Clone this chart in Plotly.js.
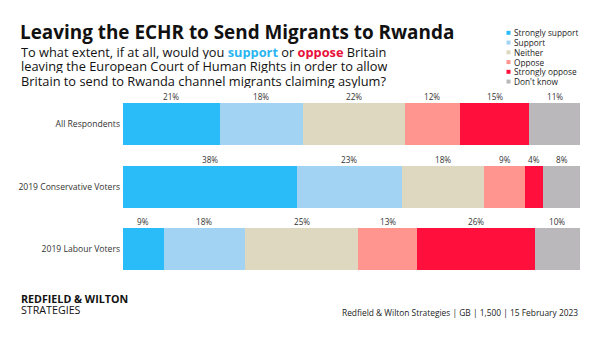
<!DOCTYPE html>
<html>
<head>
<meta charset="utf-8">
<script src="https://cdn.plot.ly/plotly-3.0.1.min.js"></script>
<style>html,body{margin:0;padding:0;background:#fff;}#chart{width:600px;height:338px;}</style>
</head>
<body>
<div id="chart"></div>
<script>
const groups = ["All Respondents", "2019 Conservative Voters", "2019 Labour Voters"];
const seriesNames = ["Strongly support", "Support", "Neither", "Oppose", "Strongly oppose", "Don't know"];
const seriesColors = ["#29BCF9", "#A3D3F3", "#DED8C0", "#FF958E", "#FF0F3B", "#BAB8BA"];
const stronglySupport = [21, 38, 9];
const support = [18, 23, 18];
const neither = [22, 18, 25];
const oppose = [12, 9, 13];
const stronglyOppose = [15, 4, 26];
const dontKnow = [11, 8, 10];
const seriesValues = [stronglySupport, support, neither, oppose, stronglyOppose, dontKnow];

const FONT = "Open Sans, DejaVu Sans, sans-serif";
const W = 600, H = 338;
const M = {l: 123, r: 20, t: 92.5, b: 53.5};
const pw = W - M.l - M.r, ph = H - M.t - M.b;
const px = x => (x - M.l) / pw;
const py = y => (H - M.b - y) / ph;

const traces = seriesNames.map((name, i) => ({
  type: "bar",
  orientation: "h",
  name: name,
  y: groups,
  x: seriesValues[i],
  marker: {color: seriesColors[i], line: {width: 0}},
  hoverinfo: "none",
  showlegend: false
}));

const annotations = [];
// value labels above each segment, positioned in normalised data units
groups.forEach((g, gi) => {
  const total = seriesValues.reduce((s, arr) => s + arr[gi], 0);
  let cum = 0;
  seriesValues.forEach((arr, si) => {
    const v = arr[gi];
    const mid = (cum + v / 2) / total * 100;
    cum += v;
    annotations.push({
      x: mid, y: g, xref: "x", yref: "y",
      text: v + "%", showarrow: false,
      xanchor: "center", yanchor: "bottom", yshift: 20,
      font: {family: FONT, size: 8.2, color: "#333"}
    });
  });
});

// subtitle (three lines, tight spacing)
const subLines = [
  "To what extent, if at all, would you <b><span style='color:#2BB5F0'>support</span></b> or <b><span style='color:#E8103A'>oppose</span></b> Britain",
  "leaving the European Court of Human Rights in order to allow",
  "Britain to send to Rwanda channel migrants claiming asylum?"
];
subLines.forEach((t, i) => {
  annotations.push({
    xref: "paper", yref: "paper", x: px(20), y: py(51 + i * 14.6), xanchor: "left", yanchor: "middle", align: "left",
    showarrow: false, text: t, height: 14, borderpad: 0,
    font: {family: FONT, size: 12.8, color: "#111"}
  });
});
// legend (custom compact)
const shapes = [];
seriesNames.forEach((n, i) => {
  const cy = 32 + i * 9.8;
  shapes.push({type: "rect", xref: "paper", yref: "paper", x0: px(506.5), x1: px(510.5), y0: py(cy - 2), y1: py(cy + 2),
    fillcolor: seriesColors[i], line: {width: 0}});
  annotations.push({xref: "paper", yref: "paper", x: px(513), y: py(cy), xanchor: "left", yanchor: "middle",
    showarrow: false, text: n, height: 9.4, borderpad: 0, font: {family: FONT, size: 8.3, color: "#222"}});
});
// footer
annotations.push({xref: "paper", yref: "paper", x: px(20), y: py(300.5), xanchor: "left", yanchor: "middle", showarrow: false,
  text: "<b>REDFIELD &amp; WILTON</b>", height: 10.5, borderpad: 0, font: {family: FONT, size: 10.7, color: "#111"}});
annotations.push({xref: "paper", yref: "paper", x: px(20), y: py(311.5), xanchor: "left", yanchor: "middle", showarrow: false,
  text: "STRATEGIES", height: 10.5, borderpad: 0, font: {family: FONT, size: 10.7, color: "#111"}});
annotations.push({xref: "paper", yref: "paper", x: px(580), y: py(313), xanchor: "right", yanchor: "middle", showarrow: false,
  text: "Redfield &amp; Wilton Strategies | GB | 1,500 | 15 February 2023", font: {family: FONT, size: 8.4, color: "#222"}});

const layout = {
  width: W, height: H,
  margin: M,
  paper_bgcolor: "#fff", plot_bgcolor: "#fff",
  barmode: "stack", barnorm: "percent",
  bargap: 0.33,
  showlegend: false,
  title: {text: "<b>Leaving the ECHR to Send Migrants to Rwanda</b>", xref: "container", yref: "container",
    x: 20 / W, xanchor: "left", y: 1 - 32 / H, yanchor: "middle",
    font: {family: FONT, size: 18.9, color: "#111"}},
  xaxis: {range: [0, 100], visible: false, fixedrange: true},
  yaxis: {autorange: "reversed", showgrid: false, zeroline: false, showline: false, ticks: "",
    ticklabelstandoff: 2, tickfont: {family: FONT, size: 8.6, color: "#333"}, fixedrange: true},
  annotations: annotations,
  shapes: shapes
};

Plotly.newPlot("chart", traces, layout, {displayModeBar: false, staticPlot: true});
</script>
</body>
</html>
